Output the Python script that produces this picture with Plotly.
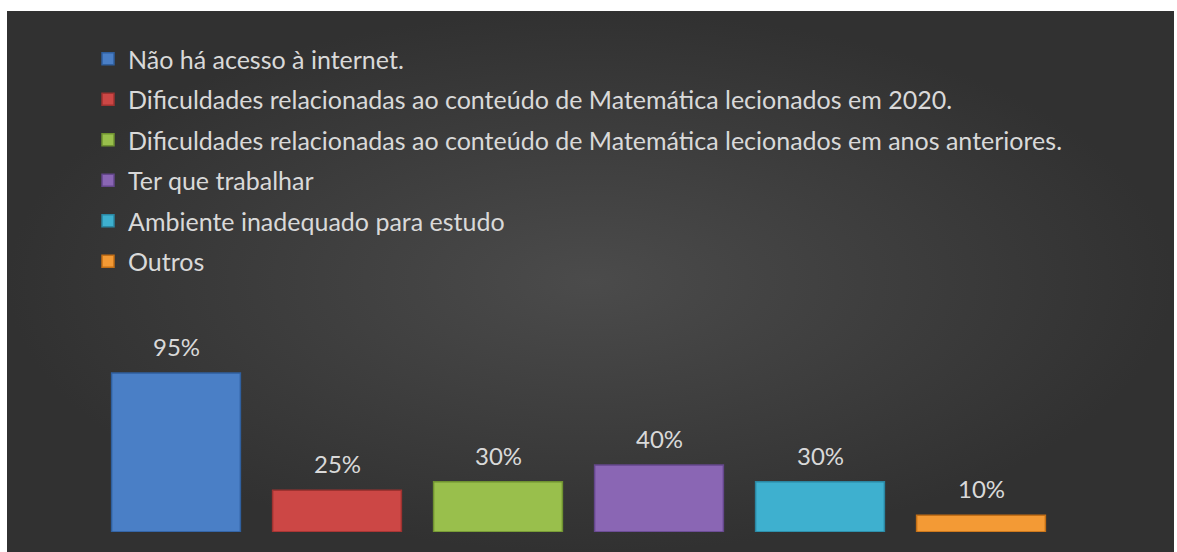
import plotly.graph_objects as go

categories = [
    "Não há acesso à internet.",
    "Dificuldades relacionadas ao conteúdo de Matemática lecionados em 2020.",
    "Dificuldades relacionadas ao conteúdo de Matemática lecionados em anos anteriores.",
    "Ter que trabalhar",
    "Ambiente inadequado para estudo",
    "Outros",
]
values = [95, 25, 30, 40, 30, 10]
colors = ["#4a7fc6", "#cc4745", "#99bf4c", "#8a66b4", "#3eb0cf", "#f39a35"]
edge_colors = ["#2f5f9e", "#9e3230", "#6f9230", "#64478c", "#2a87a3", "#c36f16"]
label_texts = [f"{v}%" for v in values]

W, H = 1177, 552
FONT = "Lato"
TXT = "#d9d9d9"

fig = go.Figure()

# background panel with radial gradient
fig.add_trace(go.Scatter(
    x=[0, 1, 1, 0, 0], y=[0, 0, 1, 1, 0],
    mode="lines", fill="toself", line=dict(width=0),
    fillgradient=dict(type="radial", colorscale=[[0, "#4b4b4b"], [1, "#313131"]]),
    hoverinfo="skip", showlegend=False, xaxis="x", yaxis="y",
))

for i, (c, v) in enumerate(zip(categories, values)):
    fig.add_trace(go.Bar(
        x=[c], y=[v], name=c, width=0.8,
        marker=dict(color=colors[i], line=dict(color=edge_colors[i], width=1.5)),
        legendgroup=str(i), xaxis="x2", yaxis="y2",
    ))
    fig.add_annotation(
        x=c, y=v, xref="x2", yref="y2", text=label_texts[i], showarrow=False,
        yanchor="bottom", yshift=10, font=dict(family=FONT, size=24, color=TXT),
    )

fig.update_layout(
    width=W, height=H, margin=dict(l=0, r=0, t=0, b=0),
    paper_bgcolor="white", plot_bgcolor="rgba(0,0,0,0)",
    barmode="overlay", showlegend=True,
    xaxis=dict(domain=[7 / W, 1174 / W], range=[0, 1], visible=False, fixedrange=True),
    yaxis=dict(domain=[0, 541 / H], range=[0, 1], visible=False, fixedrange=True),
    xaxis2=dict(domain=[95.5 / W, 1061.5 / W], range=[-0.5, 5.5], type="category",
                categoryorder="array", categoryarray=categories,
                visible=False, anchor="y2"),
    yaxis2=dict(domain=[20 / H, 187.4 / H], range=[0, 100], visible=False, anchor="x2"),
    legend=dict(
        x=88 / W, xanchor="left", y=1 - 36 / H, yanchor="top",
        orientation="v", traceorder="grouped", tracegroupgap=5,
        font=dict(family=FONT, size=25, color=TXT),
        bgcolor="rgba(0,0,0,0)", borderwidth=0,
    ),
    font=dict(family=FONT, color=TXT),
)

fig.write_html("out.html", config={"displayModeBar": False},
               post_script="document.body.style.margin='0';")
